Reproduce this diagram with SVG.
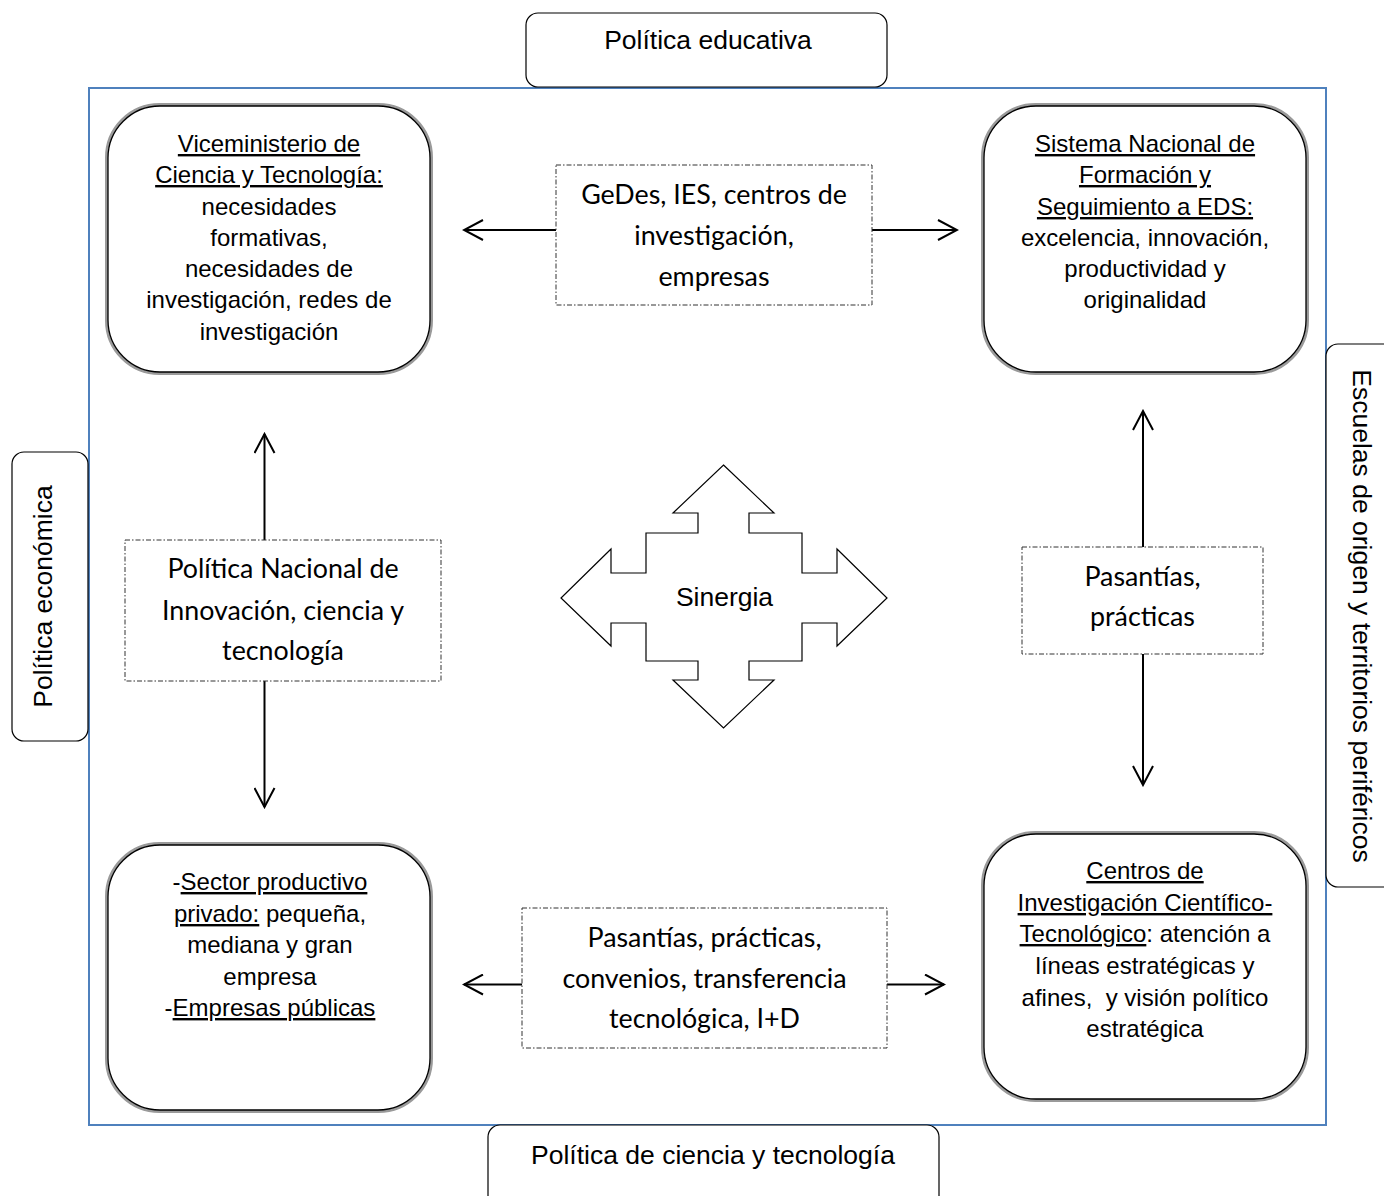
<svg xmlns="http://www.w3.org/2000/svg" width="1384" height="1196" viewBox="0 0 1384 1196">
<defs>
<style>
.bg{fill:#ffffff}
.frame{fill:none;stroke:#4f81bd;stroke-width:2}
.lbl{fill:#ffffff;stroke:#000;stroke-width:1.2}
.shadow{fill:none;stroke:#9a9a9a;stroke-width:3}
.node{fill:#ffffff;stroke:#000;stroke-width:1.3}
.dash{fill:#ffffff;stroke:#333;stroke-width:1;stroke-dasharray:5 2 1.5 2}
.t{font-family:"Liberation Sans",Arial,sans-serif;fill:#000;text-anchor:middle}
.n{font-size:24px}
.big{font-size:26.5px}
.c{font-family:Lato,"Open Sans",sans-serif;font-size:26.8px;fill:#000;text-anchor:middle}
.u{text-decoration:underline}
.ln{fill:none;stroke:#000;stroke-width:2}
.syn{fill:#ffffff;stroke:#000;stroke-width:1.2;stroke-linejoin:miter}
</style>
<marker id="ah" viewBox="0 0 22 22" refX="20" refY="11" markerWidth="22" markerHeight="22" markerUnits="userSpaceOnUse" orient="auto">
<path d="M1,1 L20,11 L1,21" fill="none" stroke="#000" stroke-width="2"/>
</marker>
</defs>
<rect class="bg" x="0" y="0" width="1384" height="1196"/>

<rect class="frame" x="89" y="88" width="1237" height="1037"/>

<g id="politica-educativa">
<rect class="lbl" x="526" y="13" width="361" height="74" rx="12"/>
<text class="t big" x="708" y="49">Política educativa</text>
</g>

<g id="politica-ciencia">
<rect class="lbl" x="488" y="1125" width="451" height="90" rx="12"/>
<text class="t big" x="713" y="1164">Política de ciencia y tecnología</text>
</g>

<g id="politica-economica">
<rect class="lbl" x="12" y="452" width="76" height="289" rx="12"/>
<text class="t big" transform="translate(51.5,596.5) rotate(-90)" x="0" y="0">Política económica</text>
</g>

<g id="escuelas">
<rect class="lbl" x="1326" y="344" width="80" height="543" rx="12"/>
<text class="t big" transform="translate(1353,616) rotate(90)" x="0" y="0">Escuelas de origen y territorios periféricos</text>
</g>

<g id="connectors">
<line class="ln" x1="556" y1="230" x2="464" y2="230" marker-end="url(#ah)"/>
<line class="ln" x1="872" y1="230" x2="957" y2="230" marker-end="url(#ah)"/>
<line class="ln" x1="264.5" y1="540" x2="264.5" y2="434" marker-end="url(#ah)"/>
<line class="ln" x1="264.5" y1="681" x2="264.5" y2="807" marker-end="url(#ah)"/>
<line class="ln" x1="1143" y1="547" x2="1143" y2="411" marker-end="url(#ah)"/>
<line class="ln" x1="1143" y1="654" x2="1143" y2="785" marker-end="url(#ah)"/>
<line class="ln" x1="522" y1="984.5" x2="464" y2="984.5" marker-end="url(#ah)"/>
<line class="ln" x1="887" y1="984.5" x2="944" y2="984.5" marker-end="url(#ah)"/>
</g>

<g id="viceministerio">
<rect class="shadow" x="106.5" y="104.5" width="325" height="269" rx="53"/>
<rect class="node" x="108" y="106" width="322" height="266" rx="52"/>
<text class="t n" x="269" y="152"><tspan class="u">Viceministerio de</tspan></text>
<text class="t n" x="269" y="183"><tspan class="u">Ciencia y Tecnología:</tspan></text>
<text class="t n" x="269" y="215">necesidades</text>
<text class="t n" x="269" y="246">formativas,</text>
<text class="t n" x="269" y="277">necesidades de</text>
<text class="t n" x="269" y="308">investigación, redes de</text>
<text class="t n" x="269" y="340">investigación</text>
</g>

<g id="sistema-nacional">
<rect class="shadow" x="982.5" y="104.5" width="325" height="269" rx="53"/>
<rect class="node" x="984" y="106" width="322" height="266" rx="52"/>
<text class="t n" x="1145" y="152"><tspan class="u">Sistema Nacional de</tspan></text>
<text class="t n" x="1145" y="183"><tspan class="u">Formación y</tspan></text>
<text class="t n" x="1145" y="215"><tspan class="u">Seguimiento a EDS:</tspan></text>
<text class="t n" x="1145" y="246">excelencia, innovación,</text>
<text class="t n" x="1145" y="277">productividad y</text>
<text class="t n" x="1145" y="308">originalidad</text>
</g>

<g id="sector-productivo">
<rect class="shadow" x="106.5" y="843.5" width="325" height="268" rx="53"/>
<rect class="node" x="108" y="845" width="322" height="265" rx="52"/>
<text class="t n" x="270" y="890">-<tspan class="u">Sector productivo</tspan></text>
<text class="t n" x="270" y="922"><tspan class="u">privado:</tspan> pequeña,</text>
<text class="t n" x="270" y="953">mediana y gran</text>
<text class="t n" x="270" y="985">empresa</text>
<text class="t n" x="270" y="1016">-<tspan class="u">Empresas públicas</tspan></text>
</g>

<g id="centros-investigacion">
<rect class="shadow" x="982.5" y="832.5" width="325" height="268" rx="53"/>
<rect class="node" x="984" y="834" width="322" height="265" rx="52"/>
<text class="t n" x="1145" y="879"><tspan class="u">Centros de</tspan></text>
<text class="t n" x="1145" y="911"><tspan class="u">Investigación Científico-</tspan></text>
<text class="t n" x="1145" y="942"><tspan class="u">Tecnológico</tspan>: atención a</text>
<text class="t n" x="1145" y="974">líneas estratégicas y</text>
<text class="t n" x="1145" y="1006">afines,&#160; y visión político</text>
<text class="t n" x="1145" y="1037">estratégica</text>
</g>

<g id="geDes">
<rect class="dash" x="556" y="165" width="316" height="140"/>
<text class="c" x="714" y="204">GeDes, IES, centros de</text>
<text class="c" x="714" y="245">investigación,</text>
<text class="c" x="714" y="286">empresas</text>
</g>

<g id="politica-nacional">
<rect class="dash" x="125" y="540" width="316" height="141"/>
<text class="c" x="283" y="578">Política Nacional de</text>
<text class="c" x="283" y="620">Innovación, ciencia y</text>
<text class="c" x="283" y="660">tecnología</text>
</g>

<g id="pasantias-der">
<rect class="dash" x="1022" y="547" width="241" height="107"/>
<text class="c" x="1142.5" y="586">Pasantías,</text>
<text class="c" x="1142.5" y="626">prácticas</text>
</g>

<g id="pasantias-inf">
<rect class="dash" x="522" y="908" width="365" height="140"/>
<text class="c" x="704.5" y="947">Pasantías, prácticas,</text>
<text class="c" x="704.5" y="988">convenios, transferencia</text>
<text class="c" x="704.5" y="1028">tecnológica, I+D</text>
</g>

<g id="sinergia">
<polygon class="syn" points="723.5,465 774,513 749,513 749,533 802,533 802,573 837,573 837,549 887,598 837,646 837,623 802,623 802,661 749,661 749,680 774,680 723.5,728 673,680 698,680 698,661 646,661 646,623 611,623 611,646 561,598 611,549 611,573 646,573 646,533 698,533 698,513 673,513"/>
<text class="t big" x="724.5" y="606">Sinergia</text>
</g>
</svg>
